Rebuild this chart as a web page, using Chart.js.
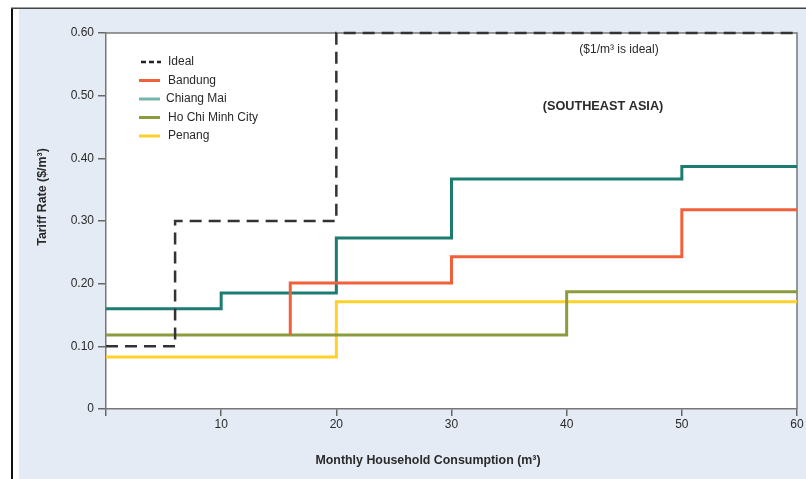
<!DOCTYPE html>
<html>
<head>
<meta charset="utf-8">
<script src="https://cdn.jsdelivr.net/npm/chart.js@4.4.1/dist/chart.umd.min.js"></script>
<style>
  html, body { margin: 0; padding: 0; background: #ffffff; }
  #wrap { position: relative; width: 806px; height: 479px; }
</style>
</head>
<body>
<div id="wrap"><canvas id="c" width="806" height="479"></canvas></div>
<script>
// ---- data (x = consumption in m3 where a block starts, y = tariff $/m3) ----
const seriesNames = ['Ideal', 'Bandung', 'Chiang Mai', 'Ho Chi Minh City', 'Penang'];
const idealX = [0, 6, 20, 60];
const idealY = [0.10, 0.30, 0.60, 0.60];
const bandungX = [16, 16, 30, 50, 60];
const bandungY = [0.118, 0.201, 0.243, 0.318, 0.318];
const chiangMaiX = [0, 10, 20, 30, 50, 60];
const chiangMaiY = [0.160, 0.185, 0.273, 0.367, 0.387, 0.387];
const hcmcX = [0, 40, 60];
const hcmcY = [0.118, 0.187, 0.187];
const penangX = [0, 20, 60];
const penangY = [0.083, 0.171, 0.171];
const xTicks = [0, 10, 20, 30, 40, 50, 60];
const yTicks = [0, 0.10, 0.20, 0.30, 0.40, 0.50, 0.60];

const lineColors = ['#333333', '#f0603a', '#1d7c70', '#8c9b3e', '#ffd12a'];
const legendColors = ['#222222', '#f0603a', '#74b6ac', '#8c9b3e', '#ffd12a'];

const pts = (xs, ys) => xs.map((x, i) => ({ x: x, y: ys[i] }));
const seriesPts = [
  pts(idealX, idealY),
  pts(bandungX, bandungY),
  pts(chiangMaiX, chiangMaiY),
  pts(hcmcX, hcmcY),
  pts(penangX, penangY)
];

const FONT = "'Liberation Sans', Arial, sans-serif";
const TXT = '#2a2a2a';

const framePlugin = {
  id: 'frame',
  beforeDraw(chart) {
    const ctx = chart.ctx, a = chart.chartArea;
    ctx.save();
    ctx.fillStyle = '#ffffff';
    ctx.fillRect(0, 0, 806, 479);
    ctx.fillStyle = '#e5ebf5';
    ctx.fillRect(19, 9, 806 - 19, 479 - 9);
    ctx.fillStyle = '#111111';
    ctx.fillRect(11, 8, 2, 479 - 8);
    ctx.fillStyle = '#444444';
    ctx.fillRect(11, 7.5, 806 - 11, 1.5);
    ctx.fillStyle = '#ffffff';
    ctx.fillRect(a.left, a.top, a.right - a.left, a.bottom - a.top);
    ctx.restore();
  },
  beforeDatasetsDraw(chart) {
    const ctx = chart.ctx, a = chart.chartArea;
    ctx.save();
    ctx.strokeStyle = '#777777';
    ctx.lineWidth = 1.5;
    ctx.beginPath();
    ctx.moveTo(a.left, a.top);
    ctx.lineTo(a.right, a.top);
    ctx.lineTo(a.right, a.bottom);
    ctx.stroke();
    ctx.restore();
  },
  afterDraw(chart) {
    const ctx = chart.ctx;
    ctx.save();
    ctx.fillStyle = TXT;
    // legend
    const lx = 139, ly0 = 62, step = 18.5;
    ctx.font = '12px ' + FONT;
    ctx.textBaseline = 'middle';
    ctx.textAlign = 'left';
    seriesNames.forEach((name, i) => {
      const y = ly0 + i * step;
      ctx.strokeStyle = legendColors[i];
      if (i === 0) {
        ctx.lineWidth = 2.5;
        ctx.setLineDash([5, 3]);
        ctx.beginPath(); ctx.moveTo(lx + 2, y); ctx.lineTo(lx + 22, y); ctx.stroke();
        ctx.setLineDash([]);
      } else {
        ctx.lineWidth = 3;
        ctx.beginPath(); ctx.moveTo(lx, y); ctx.lineTo(lx + 21, y); ctx.stroke();
      }
      ctx.fillStyle = TXT;
      ctx.fillText(name, i === 2 ? 166 : 168, y);
    });
    // annotations
    ctx.textAlign = 'center';
    ctx.font = '12px ' + FONT;
    ctx.fillText('($1/m\u00B3 is ideal)', 619, 50);
    ctx.font = 'bold 12.7px ' + FONT;
    ctx.fillText('(SOUTHEAST ASIA)', 603, 106);
    // axis titles
    ctx.font = 'bold 12.4px ' + FONT;
    ctx.fillText('Monthly Household Consumption (m\u00B3)', 428, 461);
    ctx.translate(43, 197);
    ctx.rotate(-Math.PI / 2);
    ctx.fillText('Tariff Rate ($/m\u00B3)', 0, 0);
    ctx.restore();
  }
};

new Chart(document.getElementById('c'), {
  type: 'line',
  data: {
    datasets: seriesNames.map((name, i) => ({
      label: name,
      data: seriesPts[i],
      borderColor: lineColors[i],
      borderWidth: i === 0 ? 2.5 : 3,
      borderDash: i === 0 ? [12, 7] : [],
      stepped: true,
      pointRadius: 0,
      fill: false,
      clip: false,
      borderCapStyle: 'butt'
    }))
  },
  options: {
    responsive: false,
    animation: false,
    events: [],
    layout: { padding: { top: 33, right: 9, bottom: 0, left: 0 } },
    plugins: { legend: { display: false }, tooltip: { enabled: false } },
    scales: {
      x: {
        type: 'linear',
        min: 0, max: 60,
        afterBuildTicks: s => { s.ticks = xTicks.map(v => ({ value: v })); },
        afterFit: s => { s.height = 70; },
        grid: { drawOnChartArea: false, drawTicks: true, tickLength: 7, color: '#666666', lineWidth: 1.5 },
        border: { display: true, color: '#777777', width: 1.5 },
        ticks: {
          padding: 1,
          color: TXT,
          font: { family: FONT, size: 12 },
          maxRotation: 0,
          callback: v => (v === 0 ? '' : String(v))
        }
      },
      y: {
        min: 0, max: 0.6,
        afterBuildTicks: s => { s.ticks = yTicks.map(v => ({ value: v })); },
        afterFit: s => { s.width = 106; },
        grid: { drawOnChartArea: false, drawTicks: true, tickLength: 8, color: '#666666', lineWidth: 1.5 },
        border: { display: true, color: '#777777', width: 1.5 },
        ticks: {
          padding: 4,
          color: TXT,
          font: { family: FONT, size: 12 },
          callback: v => (v === 0 ? '0' : v.toFixed(2))
        }
      }
    }
  },
  plugins: [framePlugin]
});
</script>
</body>
</html>
